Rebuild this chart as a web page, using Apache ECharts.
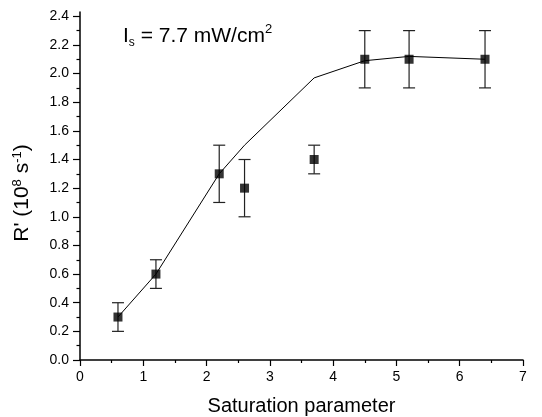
<!DOCTYPE html>
<html><head><meta charset="utf-8">
<script src="https://cdn.jsdelivr.net/npm/echarts@6/dist/echarts.min.js"></script>
<style>html,body{margin:0;padding:0;background:#fff}#c{width:542px;height:417px}</style>
</head><body><div id="c"></div>
<script>
const xVals = [0.6, 1.2, 2.2, 2.6, 3.7, 4.5, 5.2, 6.4];
const yVals = [0.3, 0.6, 1.3, 1.2, 1.4, 2.1, 2.1, 2.1];
const yErr  = [0.1, 0.1, 0.2, 0.2, 0.1, 0.2, 0.2, 0.2];
const lineX = [0.6, 1.2, 2.2, 2.6, 3.7, 4.5, 5.2, 6.4];
const lineY = [0.3, 0.6, 1.3, 1.5, 1.97, 2.09, 2.12, 2.10];
const yTicks = [0, 0.2, 0.4, 0.6, 0.8, 1.0, 1.2, 1.4, 1.6, 1.8, 2.0, 2.2, 2.4];
const yMinorTicks = [0.1, 0.3, 0.5, 0.7, 0.9, 1.1, 1.3, 1.5, 1.7, 1.9, 2.1, 2.3];
const xTicks = [0, 1, 2, 3, 4, 5, 6, 7];

const FONT = 'Liberation Sans, Arial, sans-serif';
const chart = echarts.init(document.getElementById('c'), null, {renderer: 'canvas'});

const errData = xVals.map((x, i) => [x, yVals[i] - yErr[i], yVals[i] + yErr[i]]);

const axisCommon = {
  axisLine: {show: true, onZero: false, lineStyle: {color: '#000', width: 1.5}},
  splitLine: {show: false}
};

chart.setOption({
  animation: false,
  backgroundColor: '#fff',
  grid: {left: 80, right: 19, top: 12, bottom: 57, containLabel: false, outerBoundsMode: 'none'},
  xAxis: [{
    type: 'value', min: 0, max: 7, interval: 1,
    ...axisCommon,
    axisTick: {show: true, inside: false, length: 6, lineStyle: {color: '#000', width: 1.2}},
    minorTick: {show: true, splitNumber: 2, length: 3, lineStyle: {color: '#000', width: 1.2}},
    axisLabel: {color: '#000', fontFamily: FONT, fontSize: 14, margin: 10,
      formatter: v => xTicks.includes(v) ? String(v) : ''},
    name: 'Saturation parameter', nameLocation: 'middle', nameGap: 36,
    nameTextStyle: {color: '#000', fontFamily: FONT, fontSize: 20}
  }],
  yAxis: [{
    type: 'value', min: 0, max: 2.43,
    ...axisCommon,
    axisTick: {show: true, inside: false, length: 7, customValues: yTicks, lineStyle: {color: '#000', width: 1.2}},
    minorTick: {show: false},
    axisLabel: {color: '#000', fontFamily: FONT, fontSize: 14, margin: 11, customValues: yTicks,
      formatter: v => v.toFixed(1)},
    name: "{a|R' (10}{s|8}{a| s}{s|-1}{a|)}", nameLocation: 'middle', nameGap: 46,
    nameTextStyle: {
      padding: [0, 14, 0, 0],
      rich: {
        a: {fontFamily: FONT, fontSize: 21, color: '#000'},
        s: {fontFamily: FONT, fontSize: 13, color: '#000', verticalAlign: 'top', padding: [0, 0, 10, 0]}
      }
    }
  }, {
    type: 'value', min: 0, max: 2.43, position: 'left',
    axisLine: {show: false}, splitLine: {show: false}, axisLabel: {show: false},
    axisTick: {show: true, inside: false, length: 3.5, customValues: yMinorTicks, lineStyle: {color: '#000', width: 1.2}}
  }],
  series: [
    {
      type: 'line', data: lineX.map((x, i) => [x, lineY[i]]),
      showSymbol: false, symbol: 'none', lineStyle: {color: '#000', width: 1}, z: 2
    },
    {
      type: 'custom', data: errData, z: 3,
      renderItem: (params, api) => {
        const x = api.value(0);
        const lo = api.coord([x, api.value(1)]);
        const hi = api.coord([x, api.value(2)]);
        const w = 6;
        const st = {stroke: '#222', lineWidth: 1.2};
        return {type: 'group', children: [
          {type: 'line', shape: {x1: lo[0], y1: lo[1], x2: hi[0], y2: hi[1]}, style: st},
          {type: 'line', shape: {x1: lo[0]-w, y1: lo[1], x2: lo[0]+w, y2: lo[1]}, style: st},
          {type: 'line', shape: {x1: hi[0]-w, y1: hi[1], x2: hi[0]+w, y2: hi[1]}, style: st}
        ]};
      }
    },
    {
      type: 'scatter', data: xVals.map((x, i) => [x, yVals[i]]),
      symbol: 'rect', symbolSize: 9, itemStyle: {color: '#000'}, z: 4
    }
  ],
  graphic: [{
    type: 'text', left: 123, top: 23,
    style: {
      text: '{a|I}{s|s}{a| = 7.7 mW/cm}{p|2}',
      rich: {
        a: {fontFamily: FONT, fontSize: 21, fill: '#000'},
        s: {fontFamily: FONT, fontSize: 12, fill: '#000', verticalAlign: 'bottom', padding: [14, 0, 0, 0]},
        p: {fontFamily: FONT, fontSize: 13, fill: '#000', verticalAlign: 'top', padding: [0, 0, 10, 0]}
      }
    }
  }]
});
</script>
</body></html>
